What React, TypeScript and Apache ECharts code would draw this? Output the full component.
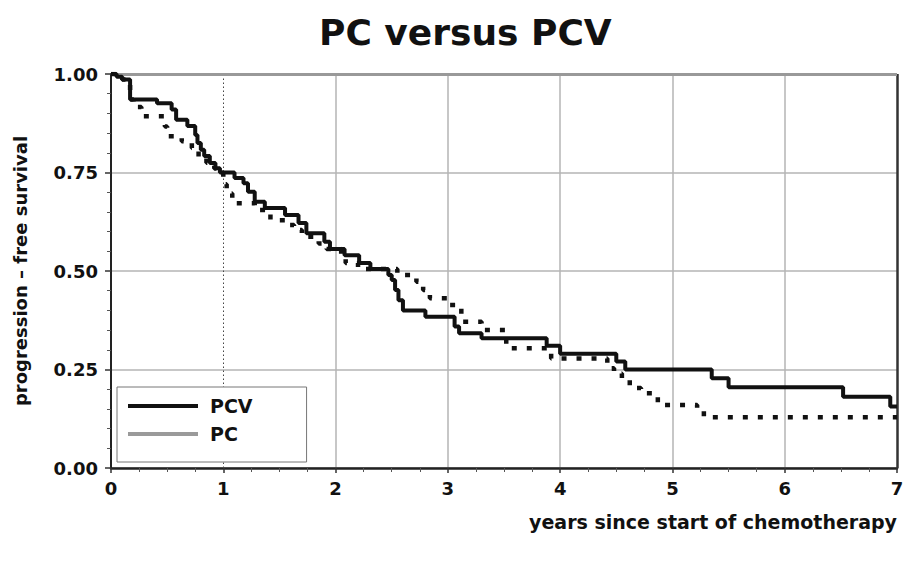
import React, { useEffect, useRef } from "react";
import * as echarts from "echarts";

const titleText = "PC versus PCV";
const xAxisName = "years since start of chemotherapy";
const yAxisName = "progression \u2013 free survival";
const xTicks = [0, 1, 2, 3, 4, 5, 6, 7];
const yTicks = [0, 0.25, 0.5, 0.75, 1.0];

// Kaplan-Meier step points [years, survival]
const pcvTimes = [0, 0.05, 0.1, 0.17, 0.41, 0.54, 0.58, 0.68, 0.75, 0.77, 0.8, 0.83, 0.88, 0.93, 0.97, 1.1, 1.18, 1.22, 1.28, 1.37, 1.55, 1.67, 1.74, 1.9, 1.95, 2.08, 2.21, 2.31, 2.47, 2.5, 2.53, 2.56, 2.6, 2.8, 3.06, 3.1, 3.3, 3.88, 4.0, 4.5, 4.58, 5.35, 5.5, 6.52, 6.94, 7.0];
const pcvSurv = [1.0, 0.993, 0.986, 0.935, 0.926, 0.91, 0.884, 0.868, 0.845, 0.825, 0.808, 0.792, 0.774, 0.761, 0.75, 0.736, 0.723, 0.701, 0.676, 0.66, 0.642, 0.622, 0.596, 0.574, 0.556, 0.54, 0.52, 0.505, 0.49, 0.477, 0.452, 0.426, 0.4, 0.384, 0.359, 0.342, 0.329, 0.31, 0.29, 0.27, 0.25, 0.228, 0.205, 0.181, 0.156, 0.156];

const pcTimes = [0, 0.05, 0.1, 0.17, 0.2, 0.27, 0.48, 0.5, 0.63, 0.72, 0.78, 0.85, 0.92, 0.97, 1.0, 1.03, 1.08, 1.28, 1.42, 1.55, 1.63, 1.7, 1.85, 1.92, 2.05, 2.09, 2.2, 2.55, 2.72, 2.78, 2.84, 3.0, 3.12, 3.3, 3.52, 3.92, 4.42, 4.48, 4.55, 4.62, 4.72, 4.87, 5.22, 5.28, 7.0];
const pcSurv = [1.0, 0.993, 0.986, 0.935, 0.916, 0.893, 0.867, 0.842, 0.829, 0.812, 0.79, 0.775, 0.76, 0.75, 0.72, 0.697, 0.672, 0.655, 0.629, 0.617, 0.604, 0.587, 0.57, 0.556, 0.54, 0.52, 0.505, 0.49, 0.473, 0.452, 0.431, 0.414, 0.371, 0.35, 0.304, 0.278, 0.253, 0.24, 0.228, 0.203, 0.19, 0.16, 0.145, 0.129, 0.129];

const FONT = "DejaVu Sans";

export default function App() {
  const ref = useRef<HTMLDivElement>(null);
  useEffect(() => {
    if (!ref.current) return;
    const chart = echarts.init(ref.current, null, { renderer: "svg" });
    const pcvData = pcvTimes.map((t, i) => [t, pcvSurv[i]]);
    const pcData = pcTimes.map((t, i) => [t, pcSurv[i]]);
    const gray = "#b4b4b4";
    chart.setOption({
      animation: false,
      backgroundColor: "#fff",
      title: {
        text: titleText,
        left: 314,
        top: 9,
        textStyle: { fontFamily: FONT, fontWeight: "bold", fontSize: 36, color: "#111" },
      },
      grid: { left: 111, right: 13, top: 74, bottom: 93, containLabel: false },
      legend: {
        orient: "vertical",
        left: 117,
        top: 387,
        padding: [9, 54, 18, 11],
        icon: "rect",
        itemWidth: 70,
        itemHeight: 4,
        itemGap: 8,
        borderColor: "#777",
        borderWidth: 1,
        backgroundColor: "#fff",
        textStyle: { fontFamily: FONT, fontWeight: "bold", fontSize: 19, lineHeight: 20, color: "#111", padding: [0, 0, 0, 7] },
        data: [
          { name: "PCV", icon: "rect", itemStyle: { color: "#111", borderWidth: 0 } },
          { name: "PC", icon: "rect", itemStyle: { color: "#9a9a9a", borderWidth: 0 } },
        ],
      },
      xAxis: {
        type: "value",
        min: xTicks[0],
        max: xTicks[xTicks.length - 1],
        interval: 1,
        name: xAxisName,
        nameLocation: "end",
        nameGap: 0,
        nameTextStyle: {
          fontFamily: FONT,
          fontWeight: "bold",
          fontSize: 19,
          color: "#111",
          align: "right",
          verticalAlign: "top",
          padding: [44, 0, 0, 0],
        },
        axisLine: { show: true, onZero: false, lineStyle: { color: "#222", width: 2.5 } },
        axisTick: { show: true, length: 5, lineStyle: { color: "#333", width: 1.5 } },
        minorTick: { show: true, splitNumber: 4, length: 4, lineStyle: { color: "#555", width: 1 } },
        axisLabel: {
          margin: 11,
          fontFamily: FONT,
          fontWeight: "bold",
          fontSize: 18,
          color: "#111",
        },
        splitLine: {
          show: true,
          lineStyle: {
            color: [gray, "rgba(0,0,0,0)", gray, gray, gray, gray, gray, "rgba(0,0,0,0)"],
            width: 1.5,
          },
        },
      },
      yAxis: {
        type: "value",
        min: yTicks[0],
        max: yTicks[yTicks.length - 1],
        interval: 0.25,
        name: yAxisName,
        nameLocation: "middle",
        nameGap: 82,
        nameTextStyle: { fontFamily: FONT, fontWeight: "bold", fontSize: 18, color: "#111" },
        axisLine: { show: true, onZero: false, lineStyle: { color: "#222", width: 2 } },
        axisTick: { show: true, length: 6, lineStyle: { color: "#333", width: 1.5 } },
        minorTick: { show: true, splitNumber: 5, length: 4, lineStyle: { color: "#555", width: 1 } },
        axisLabel: {
          margin: 13,
          fontFamily: FONT,
          fontWeight: "bold",
          fontSize: 18,
          color: "#111",
          formatter: (v: number) => v.toFixed(2),
        },
        splitLine: { show: true, lineStyle: { color: gray, width: 1.5 } },
      },
      series: [
        {
          name: "PC",
          type: "line",
          step: "end",
          data: pcData,
          showSymbol: false,
          symbol: "none",
          z: 3,
          lineStyle: { color: "#111", width: 4.5, type: [5, 10] },
          itemStyle: { color: "#111" },
          markLine: {
            silent: true,
            symbol: "none",
            label: { show: false },
            data: [
              { xAxis: 1, lineStyle: { color: "#444", width: 1, type: [1.5, 2.5] } },
              { xAxis: 7, lineStyle: { color: "#333", width: 2.5, type: "solid" } },
              { yAxis: 1, lineStyle: { color: "#999", width: 3, type: "solid" } },
            ],
            z: 1,
          },
        },
        {
          name: "PCV",
          type: "line",
          step: "end",
          data: pcvData,
          showSymbol: false,
          symbol: "none",
          z: 4,
          lineStyle: { color: "#111", width: 4 },
          itemStyle: { color: "#111" },
        },
      ],
    });
    return () => chart.dispose();
  }, []);
  return (
    <div
      ref={ref}
      style={{ position: "fixed", left: 0, top: 0, width: 910, height: 561, background: "#fff" }}
    />
  );
}
